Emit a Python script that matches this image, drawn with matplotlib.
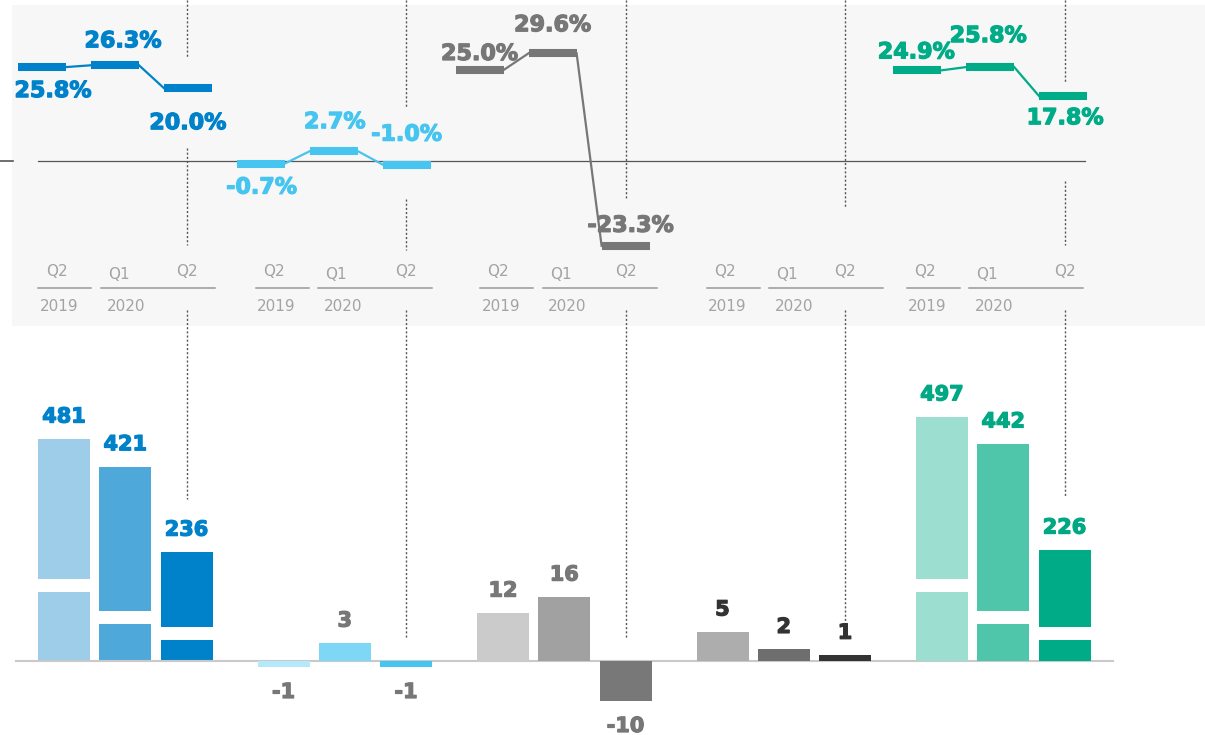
import matplotlib.pyplot as plt
import matplotlib.patheffects as pe

plt.rcParams['font.family'] = ['DejaVu Sans']

# quarter order in every panel: Q2 2019, Q1 2020, Q2 2020
quarters = ['Q2', 'Q1', 'Q2']
years = ['2019', '2020']

blue_values = [481, 421, 236]
cyan_values = [-1, 3, -1]
grey_values = [12, 16, -10]
dark_values = [5, 2, 1]
green_values = [497, 442, 226]

blue_margin = [25.8, 26.3, 20.0]
cyan_margin = [-0.7, 2.7, -1.0]
grey_margin = [25.0, 29.6, -23.3]
dark_margin = None
green_margin = [24.9, 25.8, 17.8]

values = [blue_values, cyan_values, grey_values, dark_values, green_values]
margins = [blue_margin, cyan_margin, grey_margin, dark_margin, green_margin]

# styling
bar_colors = [
    ['#9dcde9', '#4ea8da', '#0082ca'],
    ['#b3e9fb', '#7dd7f5', '#46c5f0'],
    ['#cbcbcb', '#a1a1a1', '#787878'],
    ['#adadad', '#6e6e6e', '#333333'],
    ['#9cdecf', '#4fc6a9', '#00ac87'],
]
value_colors = ['#0082ca', '#777777', '#777777', '#333333', '#00a983']
line_colors = ['#0082ca', '#46c5f0', '#777777', None, '#00ac87']
px_per_unit = [0.4616, 6.0, 4.0, 5.83, 0.4913]   # each panel has its own scale
broken = [True, False, False, False, True]

# label placement around the margin steps (pixels)
label_dx = [[11, 8, 0], [1, 1, 0], [0, 0, 5], None, [-1, -2, 2]]
label_dy = [[22, -26, 33], [22, -31, -32], [-18, -30, -22], None, [-20, -33, 20]]

W, H = 1205, 735
BASE_PX = 661
BAR3_X, GROUP_STEP, BAR_STEP, BAR_W = 186.5, 219.5, 61.25, 52
SEG3_X, SEG_GROUP_STEP, SEG_STEP, SEG_W = 188, 218.8, 73, 48
ZERO_PX, PX_PER_PCT = 161, 3.64
BREAK_PX, BREAK_H = [69, 37, 21], 13
CAT_X0 = [38.3, 255.7, 480, 706.7, 906.7]
TOP_DOTS = [[(0, 57), (148, 245)], [(0, 108), (199, 250)], [(0, 200)],
            [(0, 208)], [(0, 82), (181, 245)]]
DOT = dict(color='#555555', lw=1.0, ls=(0, (1.5, 1.5)))


def bold(color):
    # heavier strokes for the value labels
    return [pe.withStroke(linewidth=0.9, foreground=color)]


fig = plt.figure(figsize=(W / 100, H / 100), dpi=100)


def bar_x(g, j):
    return BAR3_X + g * GROUP_STEP + (j - 2) * BAR_STEP


def seg_x(g, j):
    return SEG3_X + g * SEG_GROUP_STEP + (j - 2) * SEG_STEP


# ---- margin panel ----
ax_top = fig.add_axes([12 / W, 1 - 326 / H, (W - 12) / W, (326 - 5) / H])
ax_top.set_facecolor('#f7f7f7')
ax_top.set_xlim(12, W)
ax_top.set_ylim((ZERO_PX - 326) / PX_PER_PCT, (ZERO_PX - 5) / PX_PER_PCT)
ax_top.set_xticks([])
ax_top.set_yticks([])
for s in ax_top.spines.values():
    s.set_visible(False)

ax_top.plot([38, 1085], [0, 0], color='#555555', lw=0.9)
ax_top.plot([0, 13], [0, 0], color='#555555', lw=1.2, clip_on=False)

for g, m in enumerate(margins):
    if m is None:
        continue
    c = line_colors[g]
    for j, v in enumerate(m):
        xc = seg_x(g, j)
        ax_top.plot([xc - SEG_W / 2, xc + SEG_W / 2], [v, v], color=c,
                    lw=5.8, solid_capstyle='butt')
        if j < 2:
            ax_top.plot([xc + SEG_W / 2, seg_x(g, j + 1) - SEG_W / 2],
                        [v, m[j + 1]], color=c, lw=1.6)
        ax_top.text(xc + label_dx[g][j], v - (label_dy[g][j] + 8) / PX_PER_PCT,
                    f'{v:.1f}%', ha='center', va='baseline', fontsize=16,
                    fontweight='bold', color=c, path_effects=bold(c))

# ---- bar panels ----
for g, vals in enumerate(values):
    s = px_per_unit[g]
    ax = fig.add_axes([0, 0, 1, 1])
    ax.set_xlim(0, W)
    ax.set_ylim(-(H - BASE_PX) / s, BASE_PX / s)
    ax.axis('off')
    for j, v in enumerate(vals):
        x = bar_x(g, j)
        col = bar_colors[g][j]
        if broken[g]:
            lo = BREAK_PX[j] / s
            hi = (BREAK_PX[j] + BREAK_H) / s
            ax.bar(x, lo, width=BAR_W, color=col)
            ax.bar(x, v - hi, bottom=hi, width=BAR_W, color=col)
        else:
            ax.bar(x, v, width=BAR_W, color=col)
        off = 16.4 if v >= 0 else -31
        ax.annotate(f'{v}', (x, v), xytext=(0, off * 0.72),
                    textcoords='offset points', ha='center', va='baseline',
                    fontsize=15, fontweight='bold', color=value_colors[g],
                    path_effects=bold(value_colors[g]))
    # guide from the margin panel down to the last bar
    x3 = bar_x(g, 2)
    stop = vals[2] + 53 / s if broken[g] else 22 / s
    ax.plot([x3, x3], [(BASE_PX - 310) / s, stop], **DOT)
    if g == 0:
        ax.plot([16, 1113], [0, 0], color='#c9c9c9', lw=1.5, zorder=3)

# ---- quarter axis and guides, in pixel space ----
ax_g = fig.add_axes([0, 0, 1, 1])
ax_g.set_xlim(0, W)
ax_g.set_ylim(H, 0)
ax_g.axis('off')

for g in range(5):
    x0 = CAT_X0[g]
    x1 = x0 + 62.7
    ax_g.plot([x0, x0 + 53], [288, 288], color='#999999', lw=1.1)
    ax_g.plot([x1, x1 + 114], [288, 288], color='#999999', lw=1.1)
    qc = '#a3a3a3'
    ax_g.text(x0 + 7.5, 276, quarters[0], ha='left', va='baseline', fontsize=11, color=qc)
    ax_g.text(x1 + 7, 279, quarters[1], ha='left', va='baseline', fontsize=11, color=qc)
    ax_g.text(bar_x(g, 2), 276, quarters[2], ha='center', va='baseline', fontsize=11, color=qc)
    ax_g.text(x0 + 1.5, 311, years[0], ha='left', va='baseline', fontsize=11, color=qc)
    ax_g.text(x1 + 5.5, 311, years[1], ha='left', va='baseline', fontsize=11, color=qc)
    for a, b in TOP_DOTS[g]:
        ax_g.plot([bar_x(g, 2)] * 2, [a, b], **DOT)

fig.savefig('out.png', dpi=100)
